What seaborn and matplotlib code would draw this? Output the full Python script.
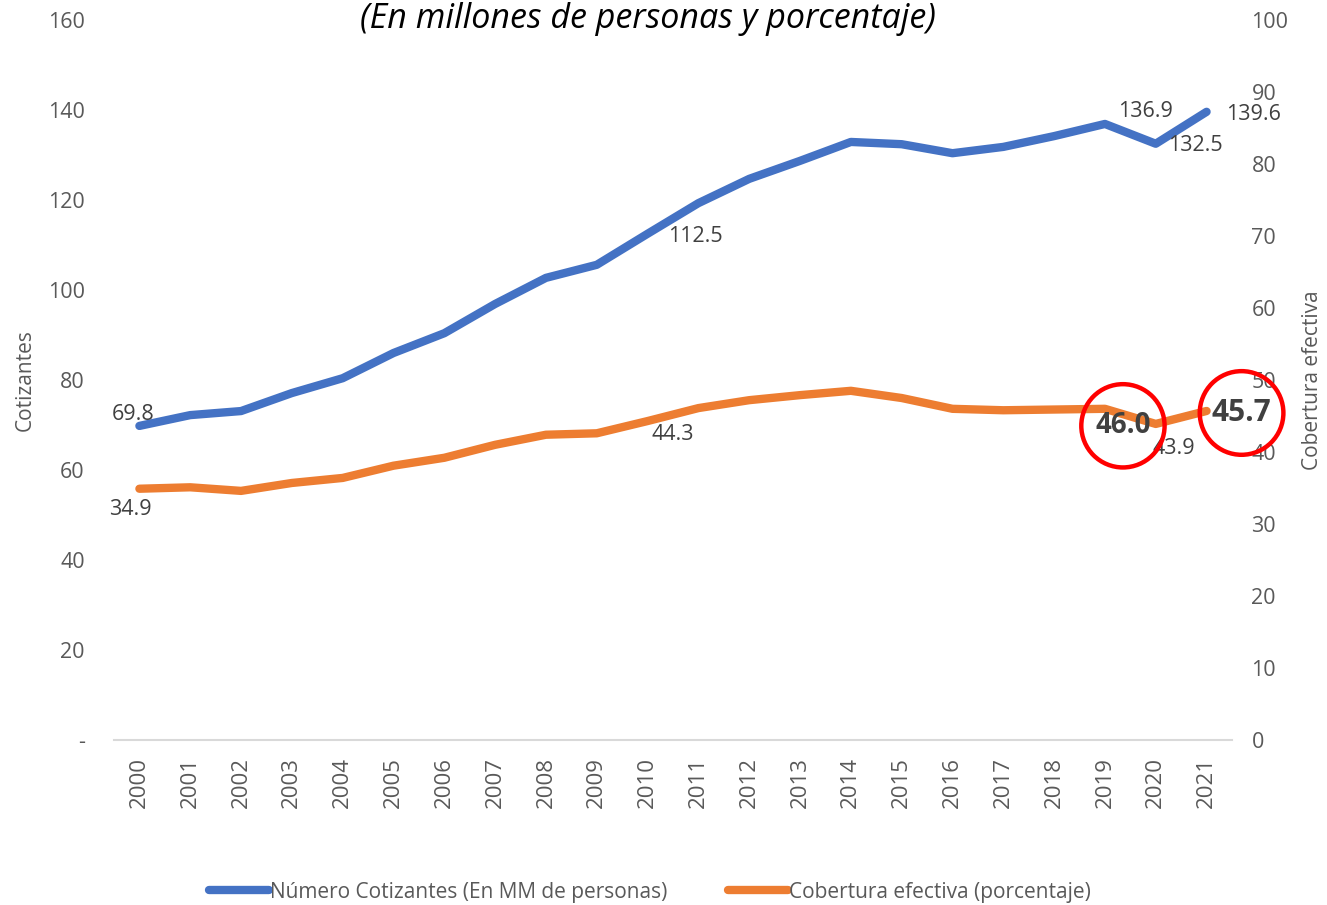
import seaborn as sns
import matplotlib.pyplot as plt
import pandas as pd
from matplotlib.lines import Line2D

years = ["2000", "2001", "2002", "2003", "2004", "2005", "2006", "2007", "2008", "2009", "2010",
         "2011", "2012", "2013", "2014", "2015", "2016", "2017", "2018", "2019", "2020", "2021"]
cotizantes = [69.8, 72.2, 73.1, 77.1, 80.4, 86.0, 90.4, 96.9, 102.7, 105.6, 112.5,
              119.3, 124.7, 128.7, 132.9, 132.4, 130.4, 131.8, 134.2, 136.9, 132.5, 139.6]
cobertura = [34.9, 35.1, 34.6, 35.7, 36.4, 38.1, 39.2, 41.0, 42.4, 42.6, 44.3,
             46.1, 47.2, 47.9, 48.5, 47.5, 46.0, 45.8, 45.9, 46.0, 43.9, 45.7]

blue = "#4472C4"
orange = "#ED7D31"
grey = "#595959"
label_col = "#404040"

df = pd.DataFrame({"anio": years, "cotizantes": cotizantes, "cobertura": cobertura})

sns.set_style("white")
plt.rcParams["font.family"] = ["Open Sans", "DejaVu Sans"]
plt.rcParams["lines.solid_capstyle"] = "round"

fig = plt.figure(figsize=(13.27, 9.05), dpi=100)
ax = fig.add_axes([0.0859, 0.1823, 0.8425, 0.7956])
ax2 = ax.twinx()

sns.lineplot(data=df, x="anio", y="cotizantes", ax=ax, color=blue, linewidth=6, sort=False)
sns.lineplot(data=df, x="anio", y="cobertura", ax=ax2, color=orange, linewidth=6, sort=False)

ax.set_xlim(-0.5, len(years) - 0.5)
ax.set_ylim(0, 160)
ax2.set_ylim(0, 100)

ax.set_yticks(range(0, 161, 20))
ax.set_yticklabels(["-"] + [str(v) for v in range(20, 161, 20)])
ax2.set_yticks(range(0, 101, 10))

ax.tick_params(axis="y", length=0, pad=21, labelsize=15.5, labelcolor=grey)
ax2.tick_params(axis="y", length=0, pad=14, labelsize=15.5, labelcolor=grey)
ax.tick_params(axis="x", length=0, pad=12, labelsize=16, labelcolor=grey, rotation=90)

for a in (ax, ax2):
    for s in ("top", "left", "right", "bottom"):
        a.spines[s].set_visible(False)
ax.spines["bottom"].set_visible(True)
ax.spines["bottom"].set_color("#D9D9D9")
ax.spines["bottom"].set_linewidth(1.5)

ax.set_xlabel("")
ax.set_ylabel("Cotizantes", fontsize=15, color=grey, labelpad=9)
ax2.set_ylabel("Cobertura efectiva", fontsize=15, color=grey, labelpad=10)

fig.text(648 / 1327, 1 - 19 / 905, "(En millones de personas y porcentaje)",
         ha="center", va="center", fontsize=24.5, style="italic", color="black")


def put(a, i, vals, dx, dy, size=15.5, bold=False, pad=0.42, circle=False, z=5):
    kw = {}
    if circle:
        kw["bbox"] = dict(boxstyle=f"circle,pad={pad}", fc="none", ec="red", lw=3.2)
    a.annotate(f"{vals[i]:.1f}", xy=(i, vals[i]), xytext=(dx * 0.72, -dy * 0.72),
               textcoords="offset points", ha="center", va="center", fontsize=size,
               fontweight="bold" if bold else "normal", color=label_col, zorder=z,
               annotation_clip=False, **kw)


put(ax, 0, cotizantes, -6, -11)
put(ax, 10, cotizantes, 48, 3)
put(ax, 19, cotizantes, 41, -12)
put(ax, 20, cotizantes, 40, 2)
put(ax, 21, cotizantes, 47, 3)

put(ax2, 0, cobertura, -9, 21)
put(ax2, 10, cobertura, 25, 13)
put(ax2, 20, cobertura, 18, 25, z=4)
put(ax2, 19, cobertura, 18, 17, size=20, bold=True, pad=0.5, circle=True, z=6)
put(ax2, 21, cobertura, 35, 2, size=21.5, bold=True, pad=0.4, circle=True, z=6)

handles = [Line2D([0], [0], color=blue, lw=6),
           Line2D([0], [0], color=orange, lw=6)]
fig.legend(handles, ["Número Cotizantes (En MM de personas)", "Cobertura efectiva (porcentaje)"],
           loc="center", bbox_to_anchor=(650 / 1327, 1 - 892 / 905), ncol=2, frameon=False,
           fontsize=15, labelcolor=grey, handlelength=2.9, handletextpad=0.05, columnspacing=2.9)

plt.savefig("out.png", dpi=100)
